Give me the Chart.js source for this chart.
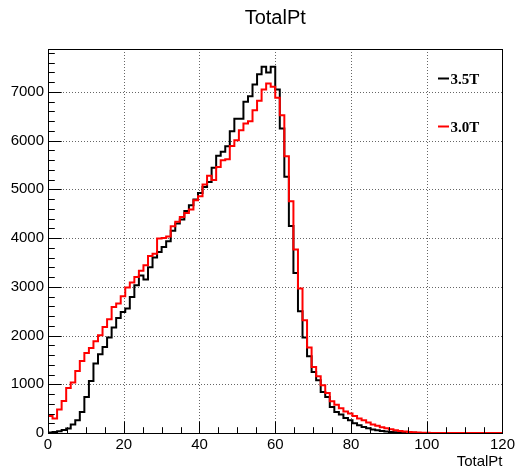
<!DOCTYPE html>
<html>
<head>
<meta charset="utf-8">
<script src="https://cdn.jsdelivr.net/npm/chart.js@4.4.1/dist/chart.umd.min.js"></script>
<style>
  html, body { margin: 0; padding: 0; background: #fff; }
  #wrap { width: 518px; height: 469px; }
</style>
</head>
<body>
<div id="wrap"><canvas id="hist"></canvas></div>
<script>
// binning of the histogram (100 bins from 0 to 120)
const xMin = 0, xMax = 120, nBins = 100;
const yMax = 7880;
const xTicks = [0, 20, 40, 60, 80, 100, 120];
const yTicks = [0, 1000, 2000, 3000, 4000, 5000, 6000, 7000];

const seriesNames = ['3.5T', '3.0T'];
const seriesColors = ['#000000', '#ff0000'];

// bin contents
const counts35 = [
  10, 20, 35, 60, 90, 172, 260, 431, 739, 1068,
  1424, 1615, 1766, 1958, 2163, 2361, 2484, 2554, 2792, 3032,
  3230, 3149, 3400, 3600, 3716, 3819, 3936, 4150, 4299, 4381,
  4558, 4675, 4791, 4927, 5050, 5150, 5441, 5687, 5769, 5886,
  6194, 6447, 6447, 6796, 6912, 7152, 7364, 7514, 7399, 7514,
  7050, 6249, 5256, 4250, 3285, 2498, 1958, 1574, 1252, 1082,
  842, 739, 534, 431, 378, 308, 261, 200, 160, 125,
  95, 72, 55, 40, 30, 22, 15, 10, 7, 5,
  3, 2, 1, 1, 0, 0, 0, 0, 0, 0,
  0, 0, 0, 0, 0, 0, 0, 0, 0, 0
];
const counts30 = [
  350, 300, 480, 657, 924, 1034, 1273, 1478, 1643, 1745,
  1882, 2006, 2176, 2334, 2587, 2656, 2806, 2985, 3088, 3203,
  3330, 3443, 3630, 3680, 3990, 4000, 4030, 4243, 4333, 4435,
  4517, 4586, 4777, 4860, 5100, 5280, 5190, 5461, 5598, 5618,
  5892, 6009, 6214, 6352, 6399, 6625, 6816, 7050, 7173, 7104,
  6878, 6522, 5680, 4757, 3765, 2964, 2313, 1753, 1355, 1164,
  979, 821, 650, 580, 510, 440, 400, 350, 300, 260,
  215, 175, 150, 120, 95, 75, 58, 42, 30, 22,
  15, 10, 6, 4, 2, 1, 1, 0, 0, 0,
  0, 0, 0, 0, 0, 0, 0, 0, 0, 0
];

const binWidth = (xMax - xMin) / nBins;

// step outline: one point per bin low edge plus the last upper edge
function histPoints(counts) {
  const pts = counts.map((c, i) => ({ x: xMin + i * binWidth, y: c }));
  pts.push({ x: xMax, y: counts[counts.length - 1] });
  return pts;
}

const labelFont = { family: 'Liberation Sans', size: 15 };

// ROOT-like frame: dotted grid, inward ticks, title, legend
const rootFrame = {
  id: 'rootFrame',
  beforeDatasetsDraw(chart) {
    const { ctx, chartArea: a, scales } = chart;
    ctx.save();
    ctx.strokeStyle = '#666';
    ctx.lineWidth = 1;
    ctx.setLineDash([1, 2]);
    ctx.beginPath();
    xTicks.forEach(v => {
      const px = Math.round(scales.x.getPixelForValue(v)) + 0.5;
      ctx.moveTo(px, a.top); ctx.lineTo(px, a.bottom);
    });
    yTicks.forEach(v => {
      const py = Math.round(scales.y.getPixelForValue(v)) + 0.5;
      ctx.moveTo(a.left, py); ctx.lineTo(a.right, py);
    });
    ctx.stroke();
    ctx.restore();
  },
  afterDatasetsDraw(chart) {
    const { ctx, chartArea: a, scales } = chart;
    ctx.save();
    ctx.strokeStyle = '#000';
    ctx.lineWidth = 1;
    ctx.strokeRect(Math.round(a.left) + 0.5, Math.round(a.top) + 0.5,
                   Math.round(a.right - a.left), Math.round(a.bottom - a.top));
    ctx.beginPath();
    // x ticks: major every 20, minor every 5
    for (let v = xMin; v <= xMax; v += 5) {
      const px = Math.round(scales.x.getPixelForValue(v)) + 0.5;
      const len = (v % 20 === 0) ? 11.5 : 5.8;
      ctx.moveTo(px, a.bottom); ctx.lineTo(px, a.bottom - len);
    }
    // y ticks: major every 1000, minor every 200
    for (let v = 0; v <= yMax; v += 200) {
      const py = Math.round(scales.y.getPixelForValue(v)) + 0.5;
      const len = (v % 1000 === 0) ? 13.7 : 6.8;
      ctx.moveTo(a.left, py); ctx.lineTo(a.left + len, py);
    }
    ctx.stroke();
    ctx.restore();
  },
  afterDraw(chart) {
    const { ctx, chartArea: a } = chart;
    ctx.save();
    ctx.fillStyle = '#000';
    // title
    ctx.font = '20px "Liberation Sans"';
    ctx.textAlign = 'center';
    ctx.textBaseline = 'alphabetic';
    ctx.fillText('TotalPt', (a.left + a.right) / 2, 23.5);
    // x axis title
    ctx.font = '15px "Liberation Sans"';
    ctx.textAlign = 'right';
    ctx.fillText('TotalPt', a.right, 466);
    // legend
    ctx.font = 'bold 15px "Liberation Serif"';
    ctx.textAlign = 'left';
    chart.data.datasets.forEach((ds, i) => {
      const y = 78.5 + i * 48;
      ctx.strokeStyle = ds.borderColor;
      ctx.lineWidth = 2;
      ctx.beginPath();
      ctx.moveTo(438, y); ctx.lineTo(449, y);
      ctx.stroke();
      ctx.fillStyle = '#000';
      ctx.fillText(ds.label, 450.5, y + 5.2);
    });
    ctx.restore();
  }
};

new Chart(document.getElementById('hist'), {
  type: 'line',
  data: {
    datasets: [
      { label: seriesNames[0], data: histPoints(counts35), borderColor: seriesColors[0],
        borderWidth: 2, stepped: true, pointRadius: 0, fill: false, order: 1 },
      { label: seriesNames[1], data: histPoints(counts30), borderColor: seriesColors[1],
        borderWidth: 2, stepped: true, pointRadius: 0, fill: false, order: 0 }
    ]
  },
  options: {
    responsive: true,
    maintainAspectRatio: false,
    animation: false,
    layout: { padding: { left: 0, right: 14, top: 49, bottom: 0 } },
    plugins: { legend: { display: false }, tooltip: { enabled: false }, title: { display: false } },
    scales: {
      x: {
        type: 'linear', min: xMin, max: xMax,
        grid: { display: false, drawTicks: false },
        border: { display: false },
        afterFit: s => { s.height = 36; },
        afterBuildTicks: s => { s.ticks = xTicks.map(v => ({ value: v })); },
        ticks: { color: '#000', font: labelFont, padding: 3, maxRotation: 0, callback: v => String(v) }
      },
      y: {
        type: 'linear', min: 0, max: yMax,
        grid: { display: false, drawTicks: false },
        border: { display: false },
        afterFit: s => { s.width = 48; },
        afterBuildTicks: s => { s.ticks = yTicks.map(v => ({ value: v })); },
        ticks: { color: '#000', font: labelFont, padding: 4, callback: v => String(v) }
      }
    }
  },
  plugins: [rootFrame]
});
</script>
</body>
</html>
